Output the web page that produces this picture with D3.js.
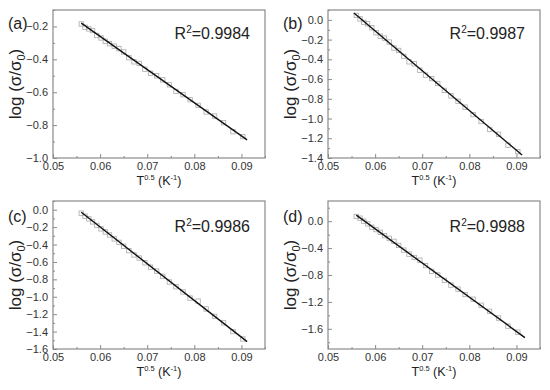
<!DOCTYPE html>
<html>
<head>
<meta charset="utf-8">
<script src="https://cdn.jsdelivr.net/npm/d3@7"></script>
<style>
  body { margin: 0; background: #fff; }
  svg { display: block; font-family: "Liberation Sans", Arial, sans-serif; }
</style>
</head>
<body>
<div id="chart"></div>
<script>
// T^-0.5 values shared by all four samples
const xData = [0.0560, 0.0568, 0.0576, 0.0584, 0.0593, 0.0602, 0.0611, 0.0620, 0.0630, 0.0640,
  0.0650, 0.0661, 0.0672, 0.0683, 0.0695, 0.0707, 0.0720, 0.0733, 0.0747, 0.0761,
  0.0776, 0.0791, 0.0808, 0.0825, 0.0843, 0.0862, 0.0882, 0.0903];

const yA = [-0.185, -0.205, -0.215, -0.225, -0.255, -0.270, -0.290, -0.305, -0.320, -0.335,
  -0.355, -0.390, -0.415, -0.425, -0.460, -0.485, -0.500, -0.525, -0.555, -0.595,
  -0.615, -0.645, -0.680, -0.720, -0.745, -0.785, -0.840, -0.870];
const yB = [0.045, 0.010, -0.025, -0.040, -0.080, -0.130, -0.165, -0.185, -0.225, -0.285,
  -0.310, -0.370, -0.425, -0.445, -0.510, -0.560, -0.595, -0.645, -0.715, -0.770,
  -0.825, -0.885, -0.960, -1.030, -1.110, -1.160, -1.270, -1.335];
const yC = [-0.040, -0.075, -0.105, -0.140, -0.180, -0.220, -0.255, -0.290, -0.335, -0.375,
  -0.420, -0.470, -0.520, -0.555, -0.610, -0.660, -0.705, -0.765, -0.830, -0.885,
  -0.945, -1.015, -1.050, -1.140, -1.225, -1.300, -1.400, -1.485];
const yD = [0.070, 0.045, 0.000, -0.040, -0.090, -0.125, -0.165, -0.215, -0.255, -0.300,
  -0.360, -0.430, -0.490, -0.540, -0.580, -0.660, -0.745, -0.800, -0.880, -0.950,
  -1.010, -1.090, -1.160, -1.250, -1.340, -1.440, -1.560, -1.650];

// linear fit end points
const fitA = [[0.0560, -0.180], [0.0912, -0.890]];
const fitB = [[0.0555, 0.070], [0.0912, -1.370]];
const fitC = [[0.0560, -0.030], [0.0912, -1.515]];
const fitD = [[0.0560, 0.090], [0.0918, -1.730]];

const labels = ["(a)", "(b)", "(c)", "(d)"];
const r2Values = ["0.9984", "0.9987", "0.9986", "0.9988"];
const yDomains = [[-1.0, -0.1], [-1.4, 0.1], [-1.6, 0.1], [-1.9, 0.3]];
const yMajor = [
  [-1.0, -0.8, -0.6, -0.4, -0.2],
  [-1.4, -1.2, -1.0, -0.8, -0.6, -0.4, -0.2, 0.0],
  [-1.6, -1.4, -1.2, -1.0, -0.8, -0.6, -0.4, -0.2, 0.0],
  [-1.6, -1.2, -0.8, -0.4, 0.0]
];
const yMinor = [
  [-0.9, -0.7, -0.5, -0.3, -0.1],
  [-1.3, -1.1, -0.9, -0.7, -0.5, -0.3, -0.1, 0.1],
  [-1.5, -1.3, -1.1, -0.9, -0.7, -0.5, -0.3, -0.1, 0.1],
  [-1.8, -1.4, -1.0, -0.6, -0.2, 0.2]
];
const xMajor = [0.05, 0.06, 0.07, 0.08, 0.09];
const xMinor = [0.055, 0.065, 0.075, 0.085, 0.095];

const ySeries = [yA, yB, yC, yD];
const fits = [fitA, fitB, fitC, fitD];

const W = 550, H = 390;
const pw = 212, ph = 148;
const origins = [[53, 10], [328, 10], [53, 201], [328, 201]];

const svg = d3.select("#chart").append("svg")
  .attr("width", W)
  .attr("height", H);

const fmt = d3.format(".1f");
const fmtX = d3.format(".2f");

labels.forEach((lab, i) => {
  const g = svg.append("g").attr("transform", `translate(${origins[i][0]},${origins[i][1]})`);
  const x = d3.scaleLinear().domain([0.05, 0.095]).range([0, pw]);
  const y = d3.scaleLinear().domain(yDomains[i]).range([ph, 0]);

  // frame
  g.append("rect")
    .attr("width", pw).attr("height", ph)
    .attr("fill", "none").attr("stroke", "#8a8a8a").attr("stroke-width", 1.2);

  // bottom axis
  const xa = g.append("g").attr("transform", `translate(0,${ph})`)
    .call(d3.axisBottom(x).tickValues(xMajor).tickSize(-4).tickPadding(4).tickFormat(fmtX));
  g.append("g").attr("transform", `translate(0,${ph})`)
    .call(d3.axisBottom(x).tickValues(xMinor).tickSize(-2).tickFormat(""));

  // left axis
  const ya = g.append("g")
    .call(d3.axisLeft(y).tickValues(yMajor[i]).tickSize(-4).tickPadding(5).tickFormat(fmt));
  g.append("g")
    .call(d3.axisLeft(y).tickValues(yMinor[i]).tickSize(-2).tickFormat(""));

  g.selectAll(".domain").remove();
  g.selectAll(".tick line").attr("stroke", "#8a8a8a");
  g.selectAll(".tick text").attr("fill", "#333").style("font-size", "11px");

  // data points
  g.append("g").selectAll("rect")
    .data(xData.map((v, k) => [v, ySeries[i][k]]))
    .join("rect")
    .attr("x", d => x(d[0]) - 2.2)
    .attr("y", d => y(d[1]) - 2.2)
    .attr("width", 4.4).attr("height", 4.4)
    .attr("fill", "none").attr("stroke", "#aaa").attr("stroke-width", 0.8);

  // fit line
  g.append("path")
    .datum(fits[i])
    .attr("d", d3.line().x(d => x(d[0])).y(d => y(d[1])))
    .attr("fill", "none").attr("stroke", "#111").attr("stroke-width", 1.4);

  // panel label
  g.append("text")
    .attr("x", -45).attr("y", i < 2 ? 19 : 21)
    .style("font-size", "16px").attr("fill", "#222")
    .text(lab);

  // R^2
  const r = g.append("text")
    .attr("x", 197).attr("y", i < 2 ? 29 : 31)
    .attr("text-anchor", "end")
    .style("font-size", "16px").attr("fill", "#222");
  r.append("tspan").text("R");
  r.append("tspan").attr("dy", -6).style("font-size", "10px").text("2");
  r.append("tspan").attr("dy", 6).text("=" + r2Values[i]);

  // y axis title
  const yt = g.append("text")
    .attr("transform", `translate(-32,${ph / 2}) rotate(-90)`)
    .attr("text-anchor", "middle")
    .style("font-size", "17px").attr("fill", "#222");
  yt.append("tspan").text("log (σ/σ");
  yt.append("tspan").attr("dy", 4).style("font-size", "11px").text("0");
  yt.append("tspan").attr("dy", -4).text(")");

  // x axis title
  const xt = g.append("text")
    .attr("x", pw / 2).attr("y", ph + 27)
    .attr("text-anchor", "middle")
    .style("font-size", "12.5px").attr("fill", "#222");
  xt.append("tspan").text("T");
  xt.append("tspan").attr("dy", -5).style("font-size", "7.5px").text("0.5");
  xt.append("tspan").attr("dy", 5).text(" (K");
  xt.append("tspan").attr("dy", -5).style("font-size", "7.5px").text("-1");
  xt.append("tspan").attr("dy", 5).text(")");
});
</script>
</body>
</html>
